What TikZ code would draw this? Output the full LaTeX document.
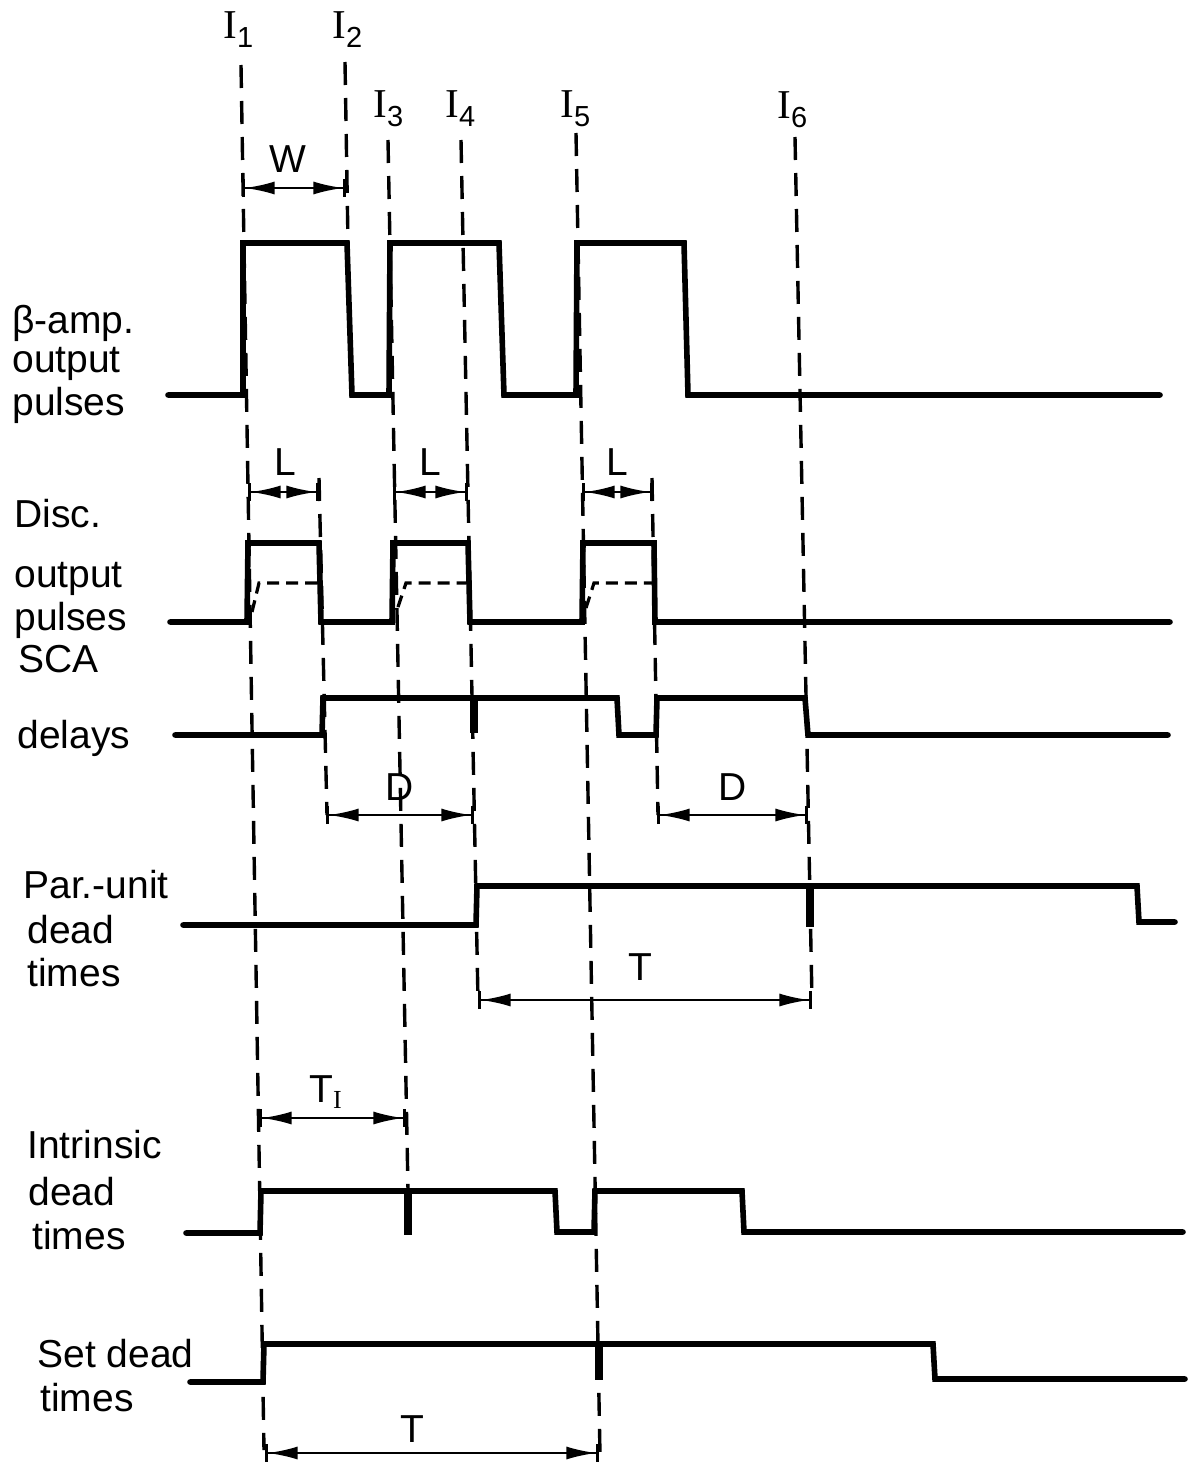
\documentclass[tikz,border=0pt]{standalone}
\usepackage{fontspec}
\setmainfont{Liberation Sans}
\newfontfamily\serifI{Liberation Serif}
\usetikzlibrary{arrows.meta}
\begin{document}
\begin{tikzpicture}[x=0.5pt,y=-0.5pt,
  sig/.style={line width=2.8pt, line cap=round, line join=miter},
  guide/.style={line width=1.7pt, dash pattern=on 11.5pt off 6.5pt},
  ramp/.style={line width=1.6pt, dash pattern=on 6pt off 3.5pt},
  spike/.style={line width=3.6pt},
  dim/.style={line width=1.2pt, arrows={Bar[width=9pt,line width=1.3pt]Latex[length=15pt,width=6.5pt]-Latex[length=15pt,width=6.5pt]Bar[width=9pt,line width=1.3pt]}},
  lab/.style={font=\fontsize{19.5}{22}\selectfont, inner sep=0pt, anchor=base west},
  ltr/.style={font=\fontsize{19.5}{22}\selectfont, inner sep=0pt, anchor=base},
  ilab/.style={font=\fontsize{20.5}{22}\selectfont, inner sep=0pt, anchor=base west},
]
\fill[white] (0,0) rectangle (1194,1462);
\useasboundingbox (0,0) rectangle (1194,1462);

% ---- guide lines (dashed) ----
\coordinate (g1a) at (241,65);  \coordinate (g1b) at (264,1450);
\coordinate (g2a) at (345,62);  \coordinate (g2b) at (348,243);
\coordinate (g3a) at (388,140); \coordinate (g3b) at (408,1190);
\coordinate (g4a) at (461,140); \coordinate (g4b) at (478,1000);
\coordinate (g5a) at (576,133); \coordinate (g5b) at (600,1455);
\coordinate (g6a) at (795,137); \coordinate (g6b) at (812,1000);
\coordinate (gLa) at (319,478); \coordinate (gLb) at (327,815);
\coordinate (gMa) at (652,478); \coordinate (gMb) at (658,815);
\draw[guide] (g1a) -- (g1b);
\draw[guide] (g2a) -- (g2b);
\draw[guide] (g3a) -- (g3b);
\draw[guide] (g4a) -- (g4b);
\draw[guide] (g5a) -- (g5b);
\draw[guide] (g6a) -- (g6b);
\draw[guide] (gLa) -- (gLb);
\draw[guide] (gMa) -- (gMb);

% ---- beta-amp output pulses ----
\draw[sig] (168,395) -- (243,395) -- (243,243) -- (347,243) -- (352,395) -- (389,395)
  -- (390,243) -- (499,243) -- (504,395) -- (576,395) -- (577,243) -- (684,243)
  -- (688,395) -- (1160,395);

% ---- disc output pulses ----
\draw[sig] (170,622) -- (247,622) -- (248,543) -- (319,543) -- (321,622) -- (392,622)
  -- (393,543) -- (468,543) -- (470,622) -- (582,622) -- (583,543) -- (654,543)
  -- (655,622) -- (1170,622);
\draw[ramp] (252,612) -- (259,583) -- (318,583);
\draw[ramp] (398,607) -- (406,583) -- (466,583);
\draw[ramp] (586,608) -- (594,583) -- (652,583);

% ---- SCA delays ----
\draw[sig] (175,735) -- (322,735) -- (323,698) -- (617,698) -- (619,735) -- (656,735)
  -- (657,698) -- (805,698) -- (808,735) -- (1168,735);
\draw[spike] (474,698) -- (474,733);

% ---- Par.-unit dead times ----
\draw[sig] (183,925) -- (476,925) -- (477,886) -- (1137,886) -- (1139,922) -- (1175,922);
\draw[spike] (810,886) -- (810,927);

% ---- Intrinsic dead times ----
\draw[sig] (186,1233) -- (260,1233) -- (261,1191) -- (555,1191) -- (557,1232) -- (594,1232)
  -- (595,1191) -- (742,1191) -- (744,1232) -- (1183,1232);
\draw[spike] (408,1191) -- (408,1235);

% ---- Set dead times ----
\draw[sig] (190,1382) -- (263,1382) -- (264,1344) -- (933,1344) -- (935,1379) -- (1185,1379);
\draw[spike] (599,1344) -- (599,1380);

% ---- dimension arrows ----
\coordinate (w1) at (242,188);  \coordinate (w2) at (346,188);
\coordinate (la1) at (248,492); \coordinate (la2) at (319,492);
\coordinate (lb1) at (393,492); \coordinate (lb2) at (468,492);
\coordinate (lc1) at (582,492); \coordinate (lc2) at (653,492);
\coordinate (da1) at (326,815); \coordinate (da2) at (474,815);
\coordinate (db1) at (657,815); \coordinate (db2) at (808,815);
\coordinate (ta1) at (478,1000); \coordinate (ta2) at (812,1000);
\coordinate (ti1) at (259,1118); \coordinate (ti2) at (406,1118);
\coordinate (tb1) at (265,1453); \coordinate (tb2) at (599,1453);
\draw[dim] (w1) -- (w2);
\draw[dim] (la1) -- (la2);
\draw[dim] (lb1) -- (lb2);
\draw[dim] (lc1) -- (lc2);
\draw[dim] (da1) -- (da2);
\draw[dim] (db1) -- (db2);
\draw[dim] (ta1) -- (ta2);
\draw[dim] (ti1) -- (ti2);
\draw[dim] (tb1) -- (tb2);

% ---- dimension labels ----
\node[ltr] (wl) at (288,172) {W};
\node[ltr] (l1) at (285,475) {L};
\node[ltr] (l2) at (430,475) {L};
\node[ltr] (l3) at (617,475) {L};
\node[ltr] (d1) at (400,800) {D};
\node[ltr] (d2) at (733,800) {D};
\node[ltr] (t1) at (640,980) {T};
\node[ltr] (t2) at (412,1442) {T};
\node[lab] (til) at (309,1102) {T\raisebox{-3pt}{\fontsize{13}{13}\selectfont\serifI I}};

% ---- instant labels ----
\node[ilab] (i1) at (223,38)  {{\serifI I}\raisebox{-4.5pt}{\fontsize{14.5}{14}\selectfont 1}};
\node[ilab] (i2) at (332,38)  {{\serifI I}\raisebox{-4.5pt}{\fontsize{14.5}{14}\selectfont 2}};
\node[ilab] (i3) at (373,117) {{\serifI I}\raisebox{-4.5pt}{\fontsize{14.5}{14}\selectfont 3}};
\node[ilab] (i4) at (445,117) {{\serifI I}\raisebox{-4.5pt}{\fontsize{14.5}{14}\selectfont 4}};
\node[ilab] (i5) at (560,117) {{\serifI I}\raisebox{-4.5pt}{\fontsize{14.5}{14}\selectfont 5}};
\node[ilab] (i6) at (777,118) {{\serifI I}\raisebox{-4.5pt}{\fontsize{14.5}{14}\selectfont 6}};

% ---- row labels ----
\node[lab] (b1) at (12,333) {β-amp.};
\node[lab] (b2) at (12,372) {output};
\node[lab] (b3) at (12,415) {pulses};
\node[lab] (c1) at (14,527) {Disc.};
\node[lab] (c2) at (14,587) {output};
\node[lab] (c3) at (14,630) {pulses};
\node[lab] (s1) at (18,672) {SCA};
\node[lab] (s2) at (17,748) {delays};
\node[lab] (p1) at (23,898) {Par.-unit};
\node[lab] (p2) at (27,943) {dead};
\node[lab] (p3) at (27,986) {times};
\node[lab] (n1) at (27,1158) {Intrinsic};
\node[lab] (n2) at (28,1205) {dead};
\node[lab] (n3) at (32,1249) {times};
\node[lab] (e1) at (37,1367) {Set dead};
\node[lab] (e2) at (40,1411) {times};
\end{tikzpicture}
\end{document}
